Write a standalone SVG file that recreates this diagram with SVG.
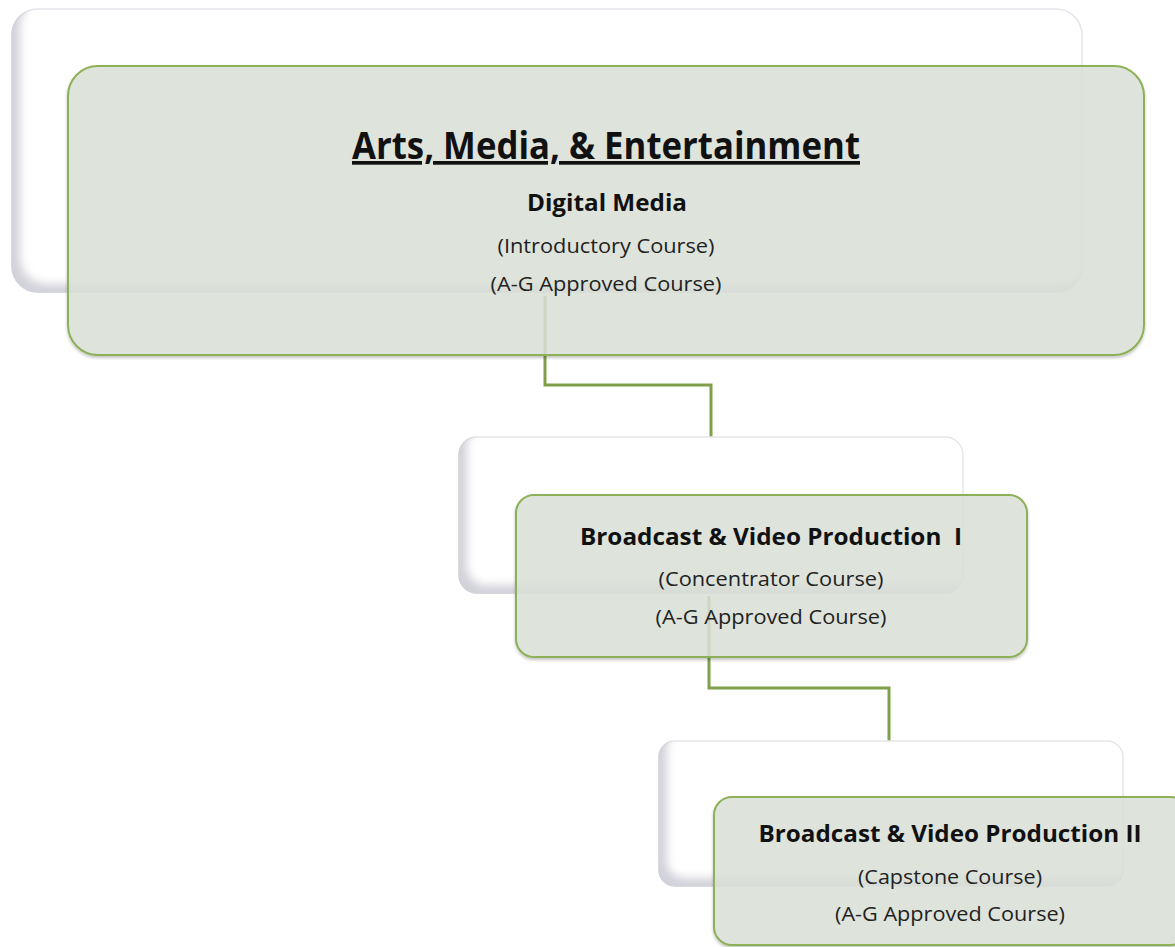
<svg xmlns="http://www.w3.org/2000/svg" width="1175" height="947" viewBox="0 0 1175 947">
<style>
.back{fill:#ffffff;stroke:#e6e6ec;stroke-width:1.5;filter:url(#inset)}
.front{fill:#dde4da;fill-opacity:0.82;stroke:#8db058;stroke-width:2;filter:url(#drop)}
.conn{fill:none;stroke:#7f9f4a;stroke-width:3}
text{font-family:"Open Sans","Liberation Sans",sans-serif;fill:#111;text-anchor:middle}
.title{font-size:37px;font-weight:bold;text-decoration:underline}
.head{font-size:23px;font-weight:bold}
.sub{font-size:20px;fill:#222}
</style>
<defs>
<filter id="inset" x="-5%" y="-5%" width="110%" height="110%">
<feOffset in="SourceAlpha" dx="9" dy="-9" result="off"/>
<feGaussianBlur in="off" stdDeviation="4" result="blur"/>
<feComposite in="SourceAlpha" in2="blur" operator="out" result="inv"/>
<feFlood flood-color="#d2d2da"/>
<feComposite in2="inv" operator="in" result="shadow"/>
<feMerge><feMergeNode in="SourceGraphic"/><feMergeNode in="shadow"/></feMerge>
</filter>
<filter id="drop" x="-5%" y="-5%" width="110%" height="115%">
<feGaussianBlur in="SourceAlpha" stdDeviation="1.5" result="b"/>
<feOffset in="b" dx="0" dy="2" result="o"/>
<feComponentTransfer in="o" result="s"><feFuncA type="linear" slope="0.25"/></feComponentTransfer>
<feMerge><feMergeNode in="s"/><feMergeNode in="SourceGraphic"/></feMerge>
</filter>
</defs>
<g id="connectors">
<path class="conn" d="M545 296 V385 H711 V437"/>
<path class="conn" d="M709 596 V688 H889 V741"/>
</g>
<g id="node-digital-media">
<rect class="back" x="12" y="9" width="1070" height="283" rx="26"/>
<rect class="front" x="68" y="66" width="1076" height="289" rx="30"/>
<text class="title" x="606" y="159" textLength="508" lengthAdjust="spacingAndGlyphs">Arts, Media, &amp; Entertainment</text>
<text class="head" x="607" y="211" textLength="160" lengthAdjust="spacingAndGlyphs">Digital Media</text>
<text class="sub" x="606" y="253" textLength="217" lengthAdjust="spacingAndGlyphs">(Introductory Course)</text>
<text class="sub" x="606" y="291" textLength="231" lengthAdjust="spacingAndGlyphs">(A-G Approved Course)</text>
</g>
<g id="node-bvp1">
<rect class="back" x="459" y="437" width="504" height="156" rx="18"/>
<rect class="front" x="516" y="495" width="511" height="162" rx="18"/>
<text class="head" x="771" y="545" textLength="382" lengthAdjust="spacingAndGlyphs">Broadcast &amp; Video Production &#160;I</text>
<text class="sub" x="771" y="586" textLength="225" lengthAdjust="spacingAndGlyphs">(Concentrator Course)</text>
<text class="sub" x="771" y="624" textLength="231" lengthAdjust="spacingAndGlyphs">(A-G Approved Course)</text>
</g>
<g id="node-bvp2">
<rect class="back" x="659" y="741" width="464" height="145" rx="16"/>
<rect class="front" x="714" y="797" width="475" height="148" rx="18"/>
<text class="head" x="950" y="842" textLength="383" lengthAdjust="spacingAndGlyphs">Broadcast &amp; Video Production II</text>
<text class="sub" x="950" y="884" textLength="184" lengthAdjust="spacingAndGlyphs">(Capstone Course)</text>
<text class="sub" x="950" y="921" textLength="230" lengthAdjust="spacingAndGlyphs">(A-G Approved Course)</text>
</g>
</svg>
